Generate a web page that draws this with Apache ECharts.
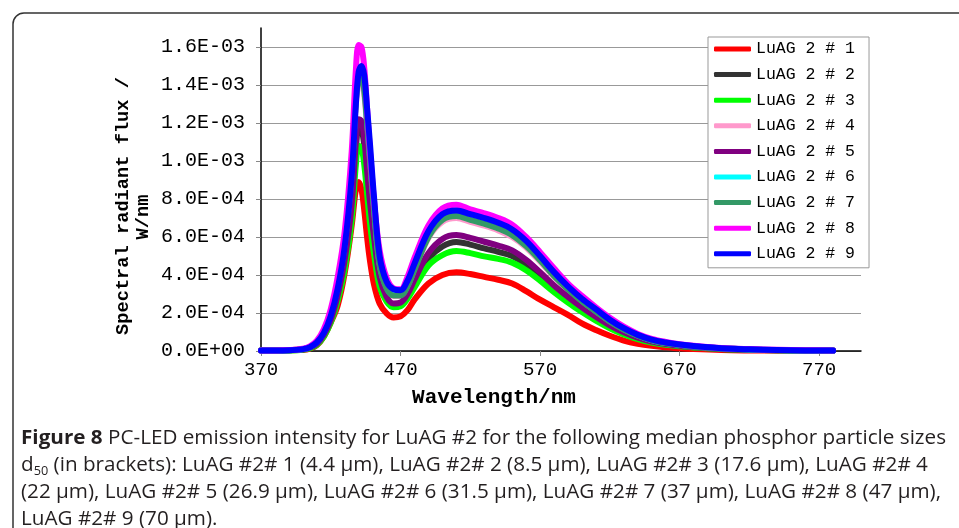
<!DOCTYPE html>
<html>
<head>
<meta charset="utf-8">
<script src="https://cdn.jsdelivr.net/npm/echarts@6/dist/echarts.min.js"></script>
<style>
html,body{margin:0;padding:0;background:#fff;}
#wrap{position:relative;width:959px;height:528px;overflow:hidden;}
#chart{position:absolute;left:0;top:0;width:959px;height:528px;}
#cap{position:absolute;left:21px;top:423px;font-family:"Open Sans",sans-serif;font-size:19.5px;line-height:27px;color:#231f20;white-space:nowrap;transform-origin:0 0;}
#cap div{display:block;}
#cap span.l{display:inline-block;}
#cap b{font-weight:700;}
#cap sub{font-size:12px;vertical-align:-4px;line-height:0;}
</style>
</head>
<body>
<div id="wrap">
<div id="chart"></div>
<div id="cap"><div><span class="l" id="line1"><b>Figure 8</b> PC-LED emission intensity for LuAG #2 for the following median phosphor particle sizes</span></div><div>d<sub>50</sub> (in brackets): LuAG #2# 1 (4.4 μm), LuAG #2# 2 (8.5 μm), LuAG #2# 3 (17.6 μm), LuAG #2# 4</div><div>(22 μm), LuAG #2# 5 (26.9 μm), LuAG #2# 6 (31.5 μm), LuAG #2# 7 (37 μm), LuAG #2# 8 (47 μm),</div><div>LuAG #2# 9 (70 μm).</div></div>
</div>
<script>
// Wavelength (nm)
var wavelengths = [370,380,390,400,405,410,415,420,425,430,435,438,440,442,444,446,448,451,455,460,465,470,475,480,490,500,510,520,530,540,550,560,570,580,590,600,610,620,630,640,650,660,670,680,700,720,740,760,780];
// Spectral radiant flux, in units of 1E-04 W/nm
var luag1 = [0.02,0.02,0.03,0.06,0.13,0.3,0.75,1.5,2.4,4.1,6.6,8.5,8.9,8.5,7.4,6.0,4.8,3.5,2.5,1.98,1.76,1.82,2.15,2.7,3.55,4.0,4.14,4.05,3.9,3.75,3.55,3.15,2.7,2.3,1.9,1.45,1.1,0.8,0.55,0.38,0.27,0.2,0.14,0.1,0.05,0.03,0.02,0.01,0.01];
var luag2 = [0.02,0.02,0.04,0.08,0.16,0.36,0.82,1.6,2.85,4.6,7.4,10.6,11.8,11.7,10.8,9.1,7.5,5.6,3.7,2.75,2.45,2.5,2.9,3.6,4.85,5.5,5.74,5.6,5.4,5.22,5.0,4.55,3.95,3.3,2.72,2.2,1.72,1.3,0.94,0.67,0.48,0.36,0.27,0.2,0.11,0.07,0.04,0.02,0.02];
var luag3 = [0.02,0.02,0.03,0.07,0.14,0.32,0.75,1.5,2.65,4.3,6.9,9.8,10.8,10.7,9.8,8.3,6.8,5.1,3.4,2.6,2.3,2.35,2.75,3.35,4.5,5.05,5.26,5.15,4.98,4.85,4.65,4.25,3.7,3.1,2.55,2.05,1.6,1.2,0.87,0.62,0.44,0.33,0.25,0.18,0.1,0.06,0.04,0.02,0.02];
var luag4 = [0.03,0.03,0.04,0.1,0.2,0.45,0.97,1.9,3.35,5.5,9.2,13.0,14.1,14.2,13.5,11.8,9.9,7.3,4.5,3.25,2.9,2.9,3.35,4.2,5.95,6.8,7.0,6.8,6.6,6.35,6.0,5.45,4.7,3.9,3.2,2.58,2.05,1.53,1.12,0.8,0.57,0.42,0.32,0.24,0.14,0.08,0.05,0.03,0.02];
var luag5 = [0.02,0.02,0.04,0.08,0.17,0.38,0.85,1.65,2.95,4.8,7.7,11.0,12.2,12.1,11.2,9.5,7.9,6.0,3.9,2.85,2.5,2.55,3.0,3.75,5.15,5.9,6.1,5.95,5.75,5.55,5.3,4.8,4.15,3.45,2.85,2.3,1.8,1.35,0.98,0.7,0.5,0.37,0.28,0.21,0.12,0.07,0.04,0.03,0.02];
var luag6 = [0.03,0.03,0.04,0.1,0.21,0.47,1.0,1.95,3.45,5.7,9.5,13.4,14.6,14.7,14.0,12.2,10.3,7.6,4.6,3.35,2.95,2.95,3.45,4.35,6.1,7.0,7.2,7.0,6.8,6.55,6.2,5.6,4.85,4.0,3.3,2.65,2.1,1.58,1.15,0.82,0.58,0.43,0.33,0.25,0.14,0.08,0.05,0.03,0.02];
var luag7 = [0.03,0.03,0.04,0.1,0.2,0.46,0.98,1.92,3.4,5.6,9.3,13.2,14.3,14.4,13.7,12.0,10.1,7.4,4.5,3.3,2.92,2.92,3.4,4.28,6.0,6.9,7.1,6.9,6.7,6.45,6.1,5.52,4.78,3.95,3.25,2.62,2.08,1.55,1.13,0.81,0.58,0.42,0.32,0.24,0.14,0.08,0.05,0.03,0.02];
var luag8 = [0.03,0.03,0.05,0.12,0.25,0.55,1.15,2.2,3.9,6.3,10.5,14.8,16.1,16.0,14.9,12.8,10.6,7.9,5.3,3.85,3.3,3.25,3.9,4.9,6.6,7.5,7.7,7.45,7.25,7.0,6.65,6.0,5.2,4.35,3.55,2.9,2.3,1.75,1.28,0.9,0.64,0.48,0.36,0.28,0.16,0.1,0.06,0.04,0.03];
var luag9 = [0.03,0.03,0.04,0.1,0.2,0.45,0.95,1.85,3.3,5.5,9.2,13.0,14.7,15.0,14.5,12.8,11.0,8.1,5.0,3.65,3.25,3.2,3.7,4.6,6.3,7.2,7.4,7.2,7.0,6.75,6.4,5.8,5.0,4.15,3.4,2.75,2.2,1.65,1.2,0.85,0.6,0.45,0.34,0.26,0.15,0.09,0.05,0.03,0.02];
var seriesNames = ['LuAG 2 # 1','LuAG 2 # 2','LuAG 2 # 3','LuAG 2 # 4','LuAG 2 # 5','LuAG 2 # 6','LuAG 2 # 7','LuAG 2 # 8','LuAG 2 # 9'];
var seriesData = [luag1,luag2,luag3,luag4,luag5,luag6,luag7,luag8,luag9];
var colors = ['#ff0000','#333333','#00ff00','#ff99cc','#800080','#00ffff','#339966','#ff00ff','#0000ff'];

function fmtE(v){
  var x = Math.round(v*1e6)/1e6*1e-4;
  if (Math.abs(x) < 1e-12) return '0.0E+00';
  var e = Math.floor(Math.log10(x) + 1e-9);
  var m = x/Math.pow(10,e);
  var s = e < 0 ? '-' : '+';
  var a = Math.abs(e);
  return m.toFixed(1) + 'E' + s + (a<10?'0':'') + a;
}

var chart = echarts.init(document.getElementById('chart'), null, {renderer:'canvas'});
var mono = '"Liberation Mono","DejaVu Sans Mono",monospace';
var series = seriesData.map(function(d,i){
  return {
    name: seriesNames[i], type:'line', smooth:0.35, showSymbol:false,
    data: wavelengths.map(function(w,j){return [w,d[j]];}),
    lineStyle:{width:6,color:colors[i],cap:'round',join:'round'},
    itemStyle:{color:colors[i]}, z:2+i, animation:false
  };
});
chart.setOption({
  animation:false,
  grid:{left:261,top:28,width:600,height:323,containLabel:false},
  xAxis:{type:'value',min:370,max:800,interval:100,
    axisLine:{lineStyle:{color:'#000',width:1.5}},
    axisTick:{show:true,length:5,lineStyle:{color:'#888'}},
    axisLabel:{color:'#000',fontFamily:mono,fontSize:19,margin:9,showMaxLabel:false,
      formatter:function(v){return (v-370)%100===0?String(v):'';}},
    splitLine:{show:false}},
  yAxis:{type:'value',min:0,max:17,interval:2,
    axisLine:{show:true,lineStyle:{color:'#000',width:1.5}},
    axisTick:{show:true,length:5,lineStyle:{color:'#888'}},
    axisLabel:{color:'#000',fontFamily:mono,fontSize:20,margin:16,showMaxLabel:false,
      formatter:function(v){return v>16.5?'':fmtE(v);}},
    splitLine:{show:true,showMaxLine:false,lineStyle:{color:'#999',width:1}}},
  legend:{orient:'vertical',left:708,top:37,padding:[2,14,4,6],itemGap:5.6,
    itemWidth:37,itemHeight:5,icon:'roundRect',
    backgroundColor:'#fff',borderColor:'#999',borderWidth:1,
    textStyle:{fontFamily:mono,fontSize:16.5,color:'#000',lineHeight:20},
    data:seriesNames},
  graphic:[
    {type:'rect',shape:{x:13,y:13,width:1100,height:700,r:11},style:{fill:'none',stroke:'#333',lineWidth:1.5},z:-1},
    {type:'text',x:123,y:206,rotation:Math.PI/2,
      style:{text:'Spectral radiant flux /',font:'bold 18.7px '+mono,fill:'#000',align:'center',verticalAlign:'middle'}},
    {type:'text',x:143,y:217,rotation:Math.PI/2,
      style:{text:'W/nm',font:'bold 18.7px '+mono,fill:'#000',align:'center',verticalAlign:'middle'}},
    {type:'text',x:494,y:398,
      style:{text:'Wavelength/nm',font:'bold 21px '+mono,fill:'#000',align:'center',verticalAlign:'middle'}}
  ],
  series:series
});

// fit caption width to the reference layout (first line spans ~925px)
(function(){
  var l1 = document.getElementById('line1');
  var w = l1.getBoundingClientRect().width;
  if (w > 0) {
    document.getElementById('cap').style.transform = 'scaleX(' + (925 / w) + ')';
  }
})();
</script>
</body>
</html>
